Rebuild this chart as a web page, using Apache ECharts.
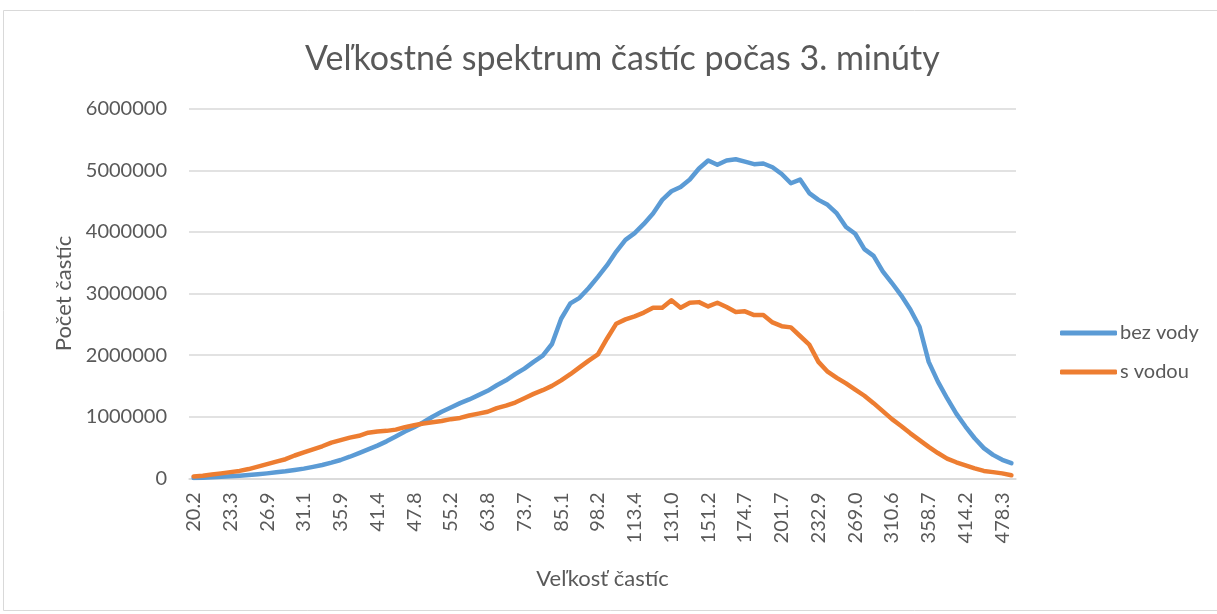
<!DOCTYPE html>
<html>
<head>
<meta charset="utf-8">
<script src="https://cdn.jsdelivr.net/npm/echarts@6/dist/echarts.min.js"></script>
<style>
  html, body { margin: 0; padding: 0; background: #ffffff; }
  #chart { width: 1217px; height: 614px; }
</style>
</head>
<body>
<div id="chart"></div>
<script>
// Particle size bins (nm)
const categories = [
  "20.2","20.9","21.7","22.5","23.3","24.1","25.0","25.9","26.9","27.9",
  "28.9","30.0","31.1","32.2","33.4","34.6","35.9","37.2","38.5","40.0",
  "41.4","42.9","44.5","46.1","47.8","49.6","51.4","53.3","55.2","57.3",
  "59.4","61.5","63.8","66.1","68.5","71.0","73.7","76.4","79.1","82.0",
  "85.1","88.2","91.4","94.7","98.2","101.8","105.5","109.4","113.4","117.6",
  "121.9","126.3","131.0","135.8","140.7","145.9","151.2","156.8","162.5","168.5",
  "174.7","181.1","187.7","194.6","201.7","209.1","216.7","224.7","232.9","241.4",
  "250.3","259.5","269.0","278.8","289.0","299.6","310.6","322.0","333.8","346.0",
  "358.7","371.8","385.4","399.5","414.2","429.4","445.1","461.4","478.3","495.8"
];

// Series "bez vody"
const bezVody = [
  5000, 10000, 16000, 25000, 32000, 42000, 53000, 65000, 80000, 97000,
  113000, 135000, 157000, 185000, 216000, 254000, 297000, 350000, 410000, 470000,
  530000, 600000, 680000, 760000, 830000, 910000, 1000000, 1080000, 1150000, 1220000,
  1280000, 1350000, 1420000, 1510000, 1590000, 1690000, 1780000, 1890000, 1990000, 2180000,
  2590000, 2840000, 2930000, 3090000, 3270000, 3460000, 3680000, 3870000, 3980000, 4130000,
  4300000, 4520000, 4660000, 4730000, 4850000, 5030000, 5160000, 5090000, 5160000, 5180000,
  5140000, 5100000, 5110000, 5050000, 4940000, 4790000, 4850000, 4630000, 4520000, 4440000,
  4300000, 4080000, 3970000, 3720000, 3610000, 3360000, 3170000, 2970000, 2740000, 2460000,
  1890000, 1570000, 1300000, 1050000, 840000, 650000, 490000, 380000, 300000, 245000
];

// Series "s vodou"
const sVodou = [
  30000, 40000, 60000, 80000, 100000, 120000, 150000, 190000, 230000, 270000,
  310000, 370000, 420000, 470000, 520000, 580000, 620000, 660000, 690000, 740000,
  760000, 770000, 790000, 830000, 860000, 890000, 910000, 930000, 960000, 980000,
  1020000, 1050000, 1080000, 1140000, 1180000, 1230000, 1300000, 1370000, 1430000, 1500000,
  1590000, 1690000, 1800000, 1910000, 2010000, 2270000, 2510000, 2580000, 2630000, 2690000,
  2770000, 2770000, 2890000, 2770000, 2850000, 2860000, 2790000, 2850000, 2780000, 2700000,
  2710000, 2650000, 2650000, 2530000, 2470000, 2450000, 2310000, 2170000, 1890000, 1730000,
  1630000, 1540000, 1440000, 1340000, 1220000, 1090000, 960000, 850000, 730000, 620000,
  510000, 410000, 320000, 260000, 210000, 160000, 120000, 100000, 80000, 50000
];

const seriesNames = ["bez vody", "s vodou"];
const titleText = "Veľkostné spektrum častíc počas 3. minúty";
const xAxisTitle = "Veľkosť častíc";
const yAxisTitle = "Počet častíc";

const FONT = "Lato";
const TXT = "#595959";

const chart = echarts.init(document.getElementById('chart'), null, { renderer: 'canvas' });
chart.setOption({
  animation: false,
  backgroundColor: '#ffffff',
  title: {
    text: titleText,
    left: 300,
    top: 37,
    textStyle: { fontFamily: FONT, fontSize: 34, fontWeight: 'normal', color: TXT }
  },
  graphic: [{
    type: 'rect',
    shape: { x: 3.5, y: 10.5, width: 1220, height: 600 },
    style: { fill: 'none', stroke: '#d9d9d9', lineWidth: 1 },
    silent: true,
    z: -10
  }],
  legend: {
    orient: 'vertical',
    left: 1055,
    top: 318,
    itemGap: 19,
    itemWidth: 57,
    itemHeight: 5,
    icon: 'roundRect',
    data: seriesNames,
    textStyle: { fontFamily: FONT, fontSize: 20, color: TXT, padding: [0, 0, 0, -2] }
  },
  grid: { left: 189, right: 201, top: 108.7, bottom: 135.7, containLabel: false },
  xAxis: {
    type: 'category',
    data: categories,
    boundaryGap: true,
    name: xAxisTitle,
    nameLocation: 'middle',
    nameGap: 90,
    nameTextStyle: { fontFamily: FONT, fontSize: 22, color: TXT },
    axisLine: { show: true, lineStyle: { color: '#d9d9d9', width: 1.5 } },
    axisTick: { show: false },
    axisLabel: {
      interval: 3,
      rotate: 90,
      margin: 14,
      fontFamily: FONT,
      fontSize: 20,
      color: TXT,
      hideOverlap: false
    },
    splitLine: { show: false }
  },
  yAxis: {
    type: 'value',
    min: 0,
    max: 6000000,
    interval: 1000000,
    name: yAxisTitle,
    nameLocation: 'middle',
    nameGap: 110,
    nameRotate: 90,
    nameTextStyle: { fontFamily: FONT, fontSize: 22, color: TXT },
    axisLine: { show: false },
    axisTick: { show: false },
    axisLabel: {
      margin: 22, fontFamily: FONT, fontSize: 20, color: TXT,
      formatter: function (v) { return String(v); }
    },
    splitLine: { show: true, lineStyle: { color: '#d9d9d9', width: 1.5 } }
  },
  series: [
    {
      name: seriesNames[0],
      type: 'line',
      data: bezVody,
      symbol: 'none',
      smooth: false,
      color: '#5B9BD5',
      lineStyle: { color: '#5B9BD5', width: 4.5, cap: 'round', join: 'round' },
      z: 3
    },
    {
      name: seriesNames[1],
      type: 'line',
      data: sVodou,
      symbol: 'none',
      smooth: false,
      color: '#ED7D31',
      lineStyle: { color: '#ED7D31', width: 4.5, cap: 'round', join: 'round' },
      z: 4
    }
  ]
});
</script>
</body>
</html>
